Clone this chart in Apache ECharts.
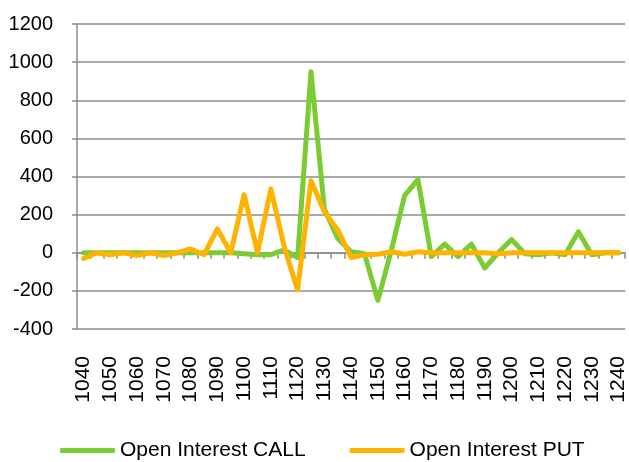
<!DOCTYPE html>
<html>
<head>
<meta charset="utf-8">
<script src="https://cdn.jsdelivr.net/npm/echarts@6/dist/echarts.min.js"></script>
<style>
  html, body { margin: 0; padding: 0; background: #fff; }
  #main { width: 629px; height: 462px; }
</style>
</head>
<body>
<div id="main"></div>
<script>
// strikes 1040..1240 step 5
var strikes = ['1040','1045','1050','1055','1060','1065','1070','1075','1080','1085',
  '1090','1095','1100','1105','1110','1115','1120','1125','1130','1135',
  '1140','1145','1150','1155','1160','1165','1170','1175','1180','1185',
  '1190','1195','1200','1205','1210','1215','1220','1225','1230','1235','1240'];

var callOI = [0, 0, 0, 0, 0, 0, 0, 0, 0, 0,
  0, 0, -5, -10, -10, 15, -25, 950, 230, 75,
  5, -5, -250, 10, 300, 385, -20, 45, -20, 45,
  -80, 0, 70, -5, -10, 0, -10, 110, -10, 0, 0];

var putOI = [-30, 0, -10, 0, -15, 0, -15, 0, 20, -10,
  125, 0, 305, 0, 335, 30, -195, 378, 215, 120,
  -25, -10, -8, 5, -8, 5, 0, 0, 0, 0,
  0, -5, 0, 0, 0, 0, 0, 0, 0, 0, 0];

var yTicks = { min: -400, max: 1200, step: 200 };

var font = 'Liberation Sans, Arial, sans-serif';
var gridGrey = '#8c8c8c';

var chart = echarts.init(document.getElementById('main'));
chart.setOption({
  animation: false,
  backgroundColor: '#fff',
  grid: { left: 77, right: 1, top: 24, bottom: 133 },
  legend: {
    left: 60,
    top: 440,
    padding: 0,
    itemWidth: 55,
    itemHeight: 5,
    itemGap: 44,
    icon: 'roundRect',
    textStyle: { fontFamily: font, fontSize: 21, color: '#000' },
    data: ['Open Interest CALL', 'Open Interest PUT']
  },
  xAxis: [
    {
      type: 'category',
      data: strikes,
      position: 'bottom',
      axisLine: { show: false, onZero: false },
      axisTick: { show: false },
      axisLabel: {
        interval: 1,
        rotate: 90,
        margin: 27,
        fontFamily: font,
        fontSize: 21,
        color: '#000'
      }
    },
    {
      type: 'category',
      data: strikes,
      position: 'bottom',
      axisLine: { show: true, onZero: true, lineStyle: { color: gridGrey, width: 1.5 } },
      axisTick: { show: true, interval: 0, length: 6, inside: false, lineStyle: { color: gridGrey, width: 1.5 } },
      axisLabel: { show: false }
    }
  ],
  yAxis: {
    type: 'value',
    min: yTicks.min,
    max: yTicks.max,
    interval: yTicks.step,
    axisLine: { show: true, lineStyle: { color: gridGrey, width: 1.5 } },
    axisTick: { show: true, length: 5, lineStyle: { color: gridGrey, width: 1.5 } },
    splitLine: { lineStyle: { color: gridGrey, width: 1.5 } },
    axisLabel: {
      fontFamily: font, fontSize: 20, color: '#000', margin: 24,
      formatter: function (v) { return String(v); }
    }
  },
  series: [
    {
      name: 'Open Interest CALL',
      type: 'line',
      data: callOI,
      showSymbol: false,
      symbol: 'none',
      itemStyle: { color: '#7acc32' },
      lineStyle: { color: '#7acc32', width: 5, cap: 'round', join: 'round' }
    },
    {
      name: 'Open Interest PUT',
      type: 'line',
      data: putOI,
      showSymbol: false,
      symbol: 'none',
      itemStyle: { color: '#ffb300' },
      lineStyle: { color: '#ffb300', width: 5, cap: 'round', join: 'round' }
    }
  ]
});
</script>
</body>
</html>
